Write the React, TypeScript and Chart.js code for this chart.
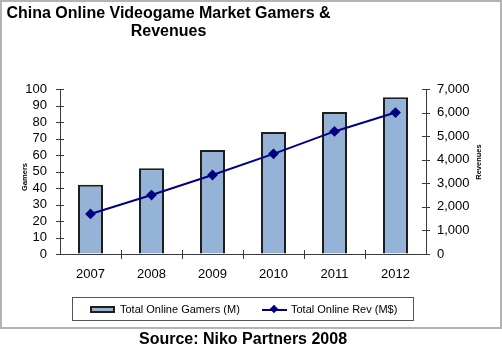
import React, { useEffect, useRef } from "react";
import { Chart, registerables } from "chart.js";
Chart.register(...registerables);

const years = ["2007", "2008", "2009", "2010", "2011", "2012"];
const gamers = [42, 52, 63, 74, 86, 95];
const revenues = [1700, 2500, 3350, 4250, 5200, 6000];
const gamersAxis = { min: 0, max: 100, step: 10 };
const revAxis = { min: 0, max: 7000, step: 1000 };
const titleLines = ["China Online Videogame Market Gamers &", "Revenues"];
const legendLabels = ["Total Online Gamers (M)", "Total Online Rev (M$)"];
const sourceText = "Source: Niko Partners 2008";
const leftTitle = "Gamers";
const rightTitle = "Revenues";

const FONT = "Arial, 'Liberation Sans', Helvetica, sans-serif";
const BAR_FILL = "#95B3D7";
const BAR_EDGE = "#1e1e1e";
const LINE_COL = "#000080";
const AXIS_COL = "#3a3a3a";

const crossTicks = {
  id: "crossTicks",
  afterDraw(chart: any) {
    const ctx = chart.ctx;
    const { x, y, y1 } = chart.scales;
    ctx.save();
    ctx.strokeStyle = AXIS_COL;
    ctx.lineWidth = 1;
    ctx.beginPath();
    y.ticks.forEach((t: any) => {
      const py = Math.round(y.getPixelForValue(t.value)) + 0.5;
      ctx.moveTo(y.right - 4, py);
      ctx.lineTo(y.right + 4, py);
    });
    y1.ticks.forEach((t: any) => {
      const py = Math.round(y1.getPixelForValue(t.value)) + 0.5;
      ctx.moveTo(y1.left - 4, py);
      ctx.lineTo(y1.left + 4, py);
    });
    for (let i = 0; i < years.length - 1; i++) {
      const px = Math.round((x.getPixelForValue(i) + x.getPixelForValue(i + 1)) / 2) + 0.5;
      ctx.moveTo(px, x.top - 4);
      ctx.lineTo(px, x.top + 5);
    }
    ctx.stroke();
    ctx.restore();
  },
};

export default function App() {
  const ref = useRef<HTMLCanvasElement>(null);
  useEffect(() => {
    if (!ref.current) return;
    const chart = new Chart(ref.current, {
      type: "bar",
      data: {
        labels: years,
        datasets: [
          {
            type: "line",
            label: legendLabels[1],
            data: revenues,
            yAxisID: "y1",
            borderColor: LINE_COL,
            backgroundColor: LINE_COL,
            borderWidth: 2,
            pointStyle: "rectRot",
            pointRadius: 4,
            pointBackgroundColor: LINE_COL,
            pointBorderColor: LINE_COL,
            tension: 0,
            order: 1,
          } as any,
          {
            type: "bar",
            label: legendLabels[0],
            data: gamers,
            yAxisID: "y",
            backgroundColor: BAR_FILL,
            borderColor: BAR_EDGE,
            borderWidth: 2,
            barPercentage: 0.41,
            categoryPercentage: 1,
            order: 2,
          } as any,
        ],
      },
      options: {
        responsive: false,
        animation: false,
        layout: { padding: { top: 89, left: 0, right: 0, bottom: 0 } },
        plugins: { legend: { display: false }, tooltip: { enabled: false }, title: { display: false } },
        scales: {
          x: {
            grid: { display: true, drawOnChartArea: false, drawTicks: false },
            border: { display: true, color: AXIS_COL, width: 1 },
            ticks: { color: "#000", font: { family: FONT, size: 13 }, padding: 13, maxRotation: 0 },
            afterFit: (s: any) => {
              s.height = 99;
            },
          },
          y: {
            position: "left",
            min: gamersAxis.min,
            max: gamersAxis.max,
            grid: { display: true, drawOnChartArea: false, drawTicks: false },
            border: { display: true, color: AXIS_COL, width: 1 },
            ticks: {
              stepSize: gamersAxis.step,
              autoSkip: false,
              color: "#000",
              font: { family: FONT, size: 13 },
              padding: 13,
            },
            afterFit: (s: any) => {
              s.width = 60;
            },
          },
          y1: {
            position: "right",
            min: revAxis.min,
            max: revAxis.max,
            grid: { display: true, drawOnChartArea: false, drawTicks: false },
            border: { display: true, color: AXIS_COL, width: 1 },
            ticks: {
              stepSize: revAxis.step,
              autoSkip: false,
              color: "#000",
              font: { family: FONT, size: 13 },
              padding: 11,
              callback: (v: any) => Number(v).toLocaleString("en-US"),
            },
            afterFit: (s: any) => {
              s.width = 76;
            },
          },
        },
      } as any,
      plugins: [crossTicks],
    });
    return () => chart.destroy();
  }, []);

  const abs = (o: any) => ({ position: "absolute" as const, ...o });

  return (
    <div style={abs({ left: 0, top: 0, width: 502, height: 353, background: "#fff", fontFamily: FONT, overflow: "hidden" })}>
      <canvas ref={ref} width={502} height={353} style={abs({ left: 0, top: 0, width: 502, height: 353 })} />
      <div
        style={abs({
          left: 0,
          top: 0,
          width: 502,
          height: 329,
          boxSizing: "border-box",
          border: "2px solid #b3b3b3",
          pointerEvents: "none",
        })}
      />
      <div
        style={abs({
          left: 0,
          top: 4,
          width: 337,
          textAlign: "center",
          fontWeight: "bold",
          fontSize: 16,
          lineHeight: "18px",
          color: "#000",
        })}
      >
        {titleLines[0]}
        <br />
        {titleLines[1]}
      </div>
      <div
        style={abs({
          left: 24,
          top: 177,
          transform: "translate(-50%, -50%) rotate(-90deg)",
          fontSize: 7.5,
          fontWeight: "bold",
          whiteSpace: "nowrap",
          color: "#000",
        })}
      >
        {leftTitle}
      </div>
      <div
        style={abs({
          left: 478,
          top: 162,
          transform: "translate(-50%, -50%) rotate(-90deg)",
          fontSize: 7.5,
          fontWeight: "bold",
          whiteSpace: "nowrap",
          color: "#000",
        })}
      >
        {rightTitle}
      </div>
      <div
        style={abs({
          left: 72,
          top: 297,
          width: 342,
          height: 24,
          boxSizing: "border-box",
          border: "1px solid #555",
        })}
      >
        <div
          style={abs({
            left: 17,
            top: 8,
            width: 25,
            height: 7,
            boxSizing: "border-box",
            background: BAR_FILL,
            border: `2px solid ${BAR_EDGE}`,
          })}
        />
        <div style={abs({ left: 47, top: 4, fontSize: 11, lineHeight: "14px", whiteSpace: "nowrap", color: "#000" })}>
          {legendLabels[0]}
        </div>
        <div style={abs({ left: 189, top: 11, width: 25, height: 2, background: LINE_COL })} />
        <div
          style={abs({
            left: 198,
            top: 8,
            width: 6,
            height: 6,
            background: LINE_COL,
            transform: "rotate(45deg)",
          })}
        />
        <div style={abs({ left: 218, top: 4, fontSize: 11, lineHeight: "14px", whiteSpace: "nowrap", color: "#000" })}>
          {legendLabels[1]}
        </div>
      </div>
      <div
        style={abs({
          left: 0,
          top: 330,
          width: 486,
          textAlign: "center",
          fontWeight: "bold",
          fontSize: 16,
          lineHeight: "18px",
          color: "#000",
        })}
      >
        {sourceText}
      </div>
    </div>
  );
}
